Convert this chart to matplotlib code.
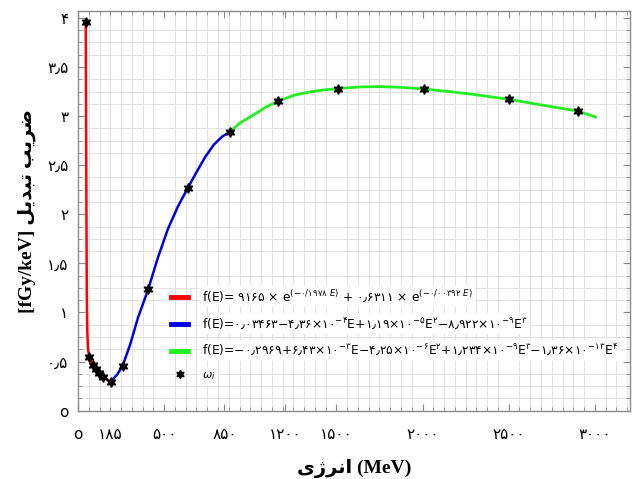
import matplotlib
matplotlib.use("Agg")
import matplotlib.pyplot as plt
from matplotlib.lines import Line2D
from matplotlib.ticker import MultipleLocator, FixedLocator

plt.rcParams['mathtext.fontset'] = 'dejavusans'

# ---- data ----
red_E = [45, 47, 49, 51, 54, 58, 64, 87, 104, 122, 145, 190]
red_f = [3.955, 3.0, 2.0, 1.2, 0.8, 0.64, 0.55, 0.47, 0.42, 0.38, 0.34, 0.295]

blue_E = [190, 226, 259, 302, 348, 408, 464, 522, 580, 638, 685, 737, 789, 836, 882]
blue_f = [0.295, 0.365, 0.456, 0.67, 0.945, 1.24, 1.56, 1.85, 2.08, 2.27, 2.42, 2.58, 2.71, 2.79, 2.84]

green_E = [882, 940, 1017, 1090, 1160, 1250, 1327, 1420, 1507, 1637, 1750, 1850,
           2008, 2150, 2300, 2503, 2700, 2904, 3004]
green_f = [2.84, 2.93, 3.01, 3.09, 3.15, 3.21, 3.24, 3.265, 3.28, 3.297, 3.30, 3.295,
           3.276, 3.25, 3.22, 3.17, 3.11, 3.05, 2.99]

pts_E = [45, 64, 87, 104, 122, 145, 190, 259, 408, 638, 882, 1160, 1507, 2008, 2503, 2904]
pts_f = [3.955, 0.55, 0.47, 0.42, 0.38, 0.34, 0.295, 0.456, 1.24, 2.27, 2.84, 3.15, 3.28, 3.276, 3.17, 3.05]

xticks = [0, 185, 500, 850, 1200, 1500, 2000, 2500, 3000]
xticklabels = ['o', '۱۸۵', '۵۰۰', '۸۵۰', '۱۲۰۰', '۱۵۰۰', '۲۰۰۰', '۲۵۰۰', '۳۰۰۰']
yticks = [0, 0.5, 1, 1.5, 2, 2.5, 3, 3.5, 4]
yticklabels = ['o', '۰٫۵', '۱', '۱٫۵', '۲', '۲٫۵', '۳', '۳٫۵', '۴']

labels = [
    "f(E)= ۹۱۶۵ × e$^{(-۰/۱۹۷۸\\ E)}$ + ۰٫۶۳۱۱ × e$^{(-۰/۰۰۳۹۲\\ E)}$",
    "f(E)=۰٫۰۳۴۶۳−۴٫۳۶×۱۰$^{-۴}$E+۱٫۱۹×۱۰$^{-۵}$E$^{۲}$−۸٫۹۲۲×۱۰$^{-۹}$E$^{۳}$",
    "f(E)=−۰٫۲۹۶۹+۶٫۴۳×۱۰$^{-۳}$E−۴٫۲۵×۱۰$^{-۶}$E$^{۲}$+۱٫۲۳۴×۱۰$^{-۹}$E$^{۳}$−۱٫۳۶×۱۰$^{-۱۳}$E$^{۴}$",
    "$\\omega_{i}$",
]

# visual-order Persian (presentation forms)
w_zarib = "\uFE90\uFBFE\uFEAE\uFEBF"
w_tabdil = "\uFEDE\uFBFE\uFEAA\uFE92\uFE97"
w_energy = "\uFBFC\uFB8A\uFEAE\uFEE7\uFE8D"
ylabel = "[fGy/keV] " + w_tabdil + " " + w_zarib
xlabel = w_energy + " (MeV)"

fig = plt.figure(figsize=(6.33, 4.79), dpi=100)
ax = fig.add_axes([78 / 633, 1 - 410.7 / 479, 552 / 633, 399.7 / 479])

ax.plot(red_E, red_f, color='#ff0000', lw=1.8, zorder=3)
ax.plot(blue_E, blue_f, color='#0000dd', lw=1.8, zorder=3)
ax.plot(green_E, green_f, color='#22ee22', lw=2.0, zorder=3)
ax.plot(pts_E, pts_f, linestyle='none', marker=(6, 1, 0), markersize=7,
        color='black', zorder=4)

ax.set_xlim(0, 3204)
ax.set_ylim(0, 4.07)

ax.xaxis.set_major_locator(FixedLocator(xticks))
ax.set_xticklabels(xticklabels, family=['DejaVu Sans'], fontsize=11)
ax.yaxis.set_major_locator(FixedLocator(yticks))
ax.set_yticklabels(yticklabels, family=['DejaVu Sans'], fontsize=11)
ax.xaxis.set_minor_locator(MultipleLocator(62.5))
ax.yaxis.set_minor_locator(MultipleLocator(0.125))

ax.grid(which='minor', color='#e2e2e2', lw=0.7)
ax.grid(which='major', visible=False)
ax.set_axisbelow(True)

ax.tick_params(which='both', direction='in', top=True, right=True, color='#8a8a8a')
ax.tick_params(which='major', length=5, pad=12)
ax.tick_params(which='minor', length=3)
ax.tick_params(axis='y', which='major', pad=7)
for s in ax.spines.values():
    s.set_color('#8a8a8a')
    s.set_linewidth(1.0)

ax.set_xlabel(xlabel, family=['Liberation Serif', 'DejaVu Sans'], fontsize=14,
              fontweight='bold', labelpad=12)
ax.set_ylabel(ylabel, family=['Liberation Serif', 'DejaVu Sans'], fontsize=14,
              fontweight='bold', labelpad=8)

handles = [Line2D([], [], color='#ff0000', lw=3.5),
           Line2D([], [], color='#0000dd', lw=3.5),
           Line2D([], [], color='#22ee22', lw=3.5),
           Line2D([], [], linestyle='none', marker=(6, 1, 0), markersize=6, color='black')]
leg = ax.legend(handles, labels, loc='upper left', bbox_to_anchor=(0.16, 0.318),
                frameon=False, fontsize=8.8, handlelength=1.4, handletextpad=1.1,
                labelspacing=0.95, borderaxespad=0)
for t in leg.get_texts():
    t.set_bbox(dict(facecolor='white', edgecolor='none', pad=2))
leg.get_texts()[3].set_fontsize(8)

fig.savefig('out.png', dpi=100)
